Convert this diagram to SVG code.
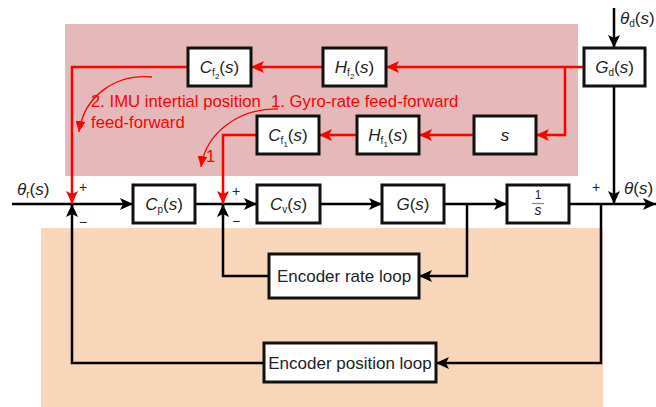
<svg xmlns="http://www.w3.org/2000/svg" width="656" height="407" viewBox="0 0 656 407">
<style>
text{font-family:"Liberation Sans",Arial,sans-serif;font-size:17px;fill:#222}
.it{font-style:italic}
.box{fill:#fff;stroke:#111;stroke-width:3}
.k{fill:none;stroke:#000;stroke-width:2.5}
.r{fill:none;stroke:#f00;stroke-width:2.5}
.ra{fill:none;stroke:#f00;stroke-width:1.3}
.rt{fill:#f00;font-size:16.7px}
.sg{font-size:14px}
</style>
<defs>
<marker id="ak" markerUnits="userSpaceOnUse" markerWidth="14" markerHeight="12" refX="13" refY="6" orient="auto"><path d="M0,0 L13,6 L0,12 L3,6 Z" fill="#000"/></marker>
<marker id="ar" markerUnits="userSpaceOnUse" markerWidth="14" markerHeight="12" refX="13" refY="6" orient="auto"><path d="M0,0 L13,6 L0,12 L3,6 Z" fill="#f00"/></marker>
<marker id="at" markerUnits="userSpaceOnUse" markerWidth="12" markerHeight="10" refX="11" refY="5" orient="auto"><path d="M0,0 L11,5 L0,10 Z" fill="#f00"/></marker>
</defs>
<rect x="65" y="24" width="513" height="152" fill="#e5b9b9"/>
<rect x="41" y="228" width="562" height="179" fill="#f8d6ba"/>
<g id="connectors">
<path class="k" d="M12 204 H72"/>
<path class="k" d="M72 204 H133" marker-end="url(#ak)"/>
<path class="k" d="M195 204 H223"/>
<path class="k" d="M223 204 H257" marker-end="url(#ak)"/>
<path class="k" d="M320 204 H382" marker-end="url(#ak)"/>
<path class="k" d="M444 204 H507" marker-end="url(#ak)"/>
<path class="k" d="M569 204 H656" marker-end="url(#ak)"/>
<path class="k" d="M614 8 V48" marker-end="url(#ak)"/>
<path class="k" d="M614 86 V204" marker-end="url(#ak)"/>
<path class="k" d="M467 204 V276 H419" marker-end="url(#ak)"/>
<path class="k" d="M269 276 H223 V204" marker-end="url(#ak)"/>
<path class="k" d="M601 204 V363 H436" marker-end="url(#ak)"/>
<path class="k" d="M264 363 H72 V204" marker-end="url(#ak)"/>
<path class="r" d="M584 67 H386" marker-end="url(#ar)"/>
<path class="r" d="M565 67 V135 H536" marker-end="url(#ar)"/>
<path class="r" d="M474 135 H419" marker-end="url(#ar)"/>
<path class="r" d="M357 135 H319" marker-end="url(#ar)"/>
<path class="r" d="M257 135 H223 V204" marker-end="url(#ar)"/>
<path class="r" d="M323 67 H251" marker-end="url(#ar)"/>
<path class="r" d="M188 67 H72 V204" marker-end="url(#ar)"/>
<path class="ra" d="M152 77 C115 74 84 96 79 132" marker-end="url(#at)"/>
<path class="ra" d="M278 109 C240 108 206 132 201 167" marker-end="url(#at)"/>
</g>
<g id="annotations">
<text class="rt" x="91" y="107">2. IMU intertial position</text>
<text class="rt" x="91" y="128">feed-forward</text>
<text class="rt" x="271" y="107">1. Gyro-rate feed-forward</text>
<text class="rt" x="206" y="162">1</text>
</g>
<g id="signals">
<text x="17" y="195"><tspan class="it">θ</tspan><tspan font-size="10" dy="3">r</tspan><tspan dy="-3">(</tspan><tspan class="it">s</tspan>)</text>
<text x="624" y="194"><tspan class="it">θ</tspan>(<tspan class="it">s</tspan>)</text>
<text x="620" y="24"><tspan class="it">θ</tspan><tspan font-size="10" dy="3">d</tspan><tspan dy="-3">(</tspan><tspan class="it">s</tspan>)</text>
<text class="sg" x="83" y="192" text-anchor="middle">+</text>
<text class="sg" x="83" y="227" text-anchor="middle">−</text>
<text class="sg" x="236" y="196" text-anchor="middle">+</text>
<text class="sg" x="236" y="226" text-anchor="middle">−</text>
<text class="sg" x="596" y="192" text-anchor="middle">+</text>
</g>
<g id="Cf2"><rect class="box" x="188" y="48" width="63" height="38"/><text x="219.5" y="73" text-anchor="middle"><tspan class="it">C</tspan><tspan font-size="10" dy="3">f</tspan><tspan font-size="8" dy="3">2</tspan><tspan dy="-6">(</tspan><tspan class="it">s</tspan>)</text></g>
<g id="Hf2"><rect class="box" x="323" y="48" width="63" height="38"/><text x="354.5" y="73" text-anchor="middle"><tspan class="it">H</tspan><tspan font-size="10" dy="3">f</tspan><tspan font-size="8" dy="3">2</tspan><tspan dy="-6">(</tspan><tspan class="it">s</tspan>)</text></g>
<g id="Gd"><rect class="box" x="584" y="48" width="61" height="38"/><text x="614.5" y="73" text-anchor="middle"><tspan class="it">G</tspan><tspan font-size="10" dy="3">d</tspan><tspan dy="-3">(</tspan><tspan class="it">s</tspan>)</text></g>
<g id="Cf1"><rect class="box" x="257" y="116" width="62" height="38"/><text x="288" y="141" text-anchor="middle"><tspan class="it">C</tspan><tspan font-size="10" dy="3">f</tspan><tspan font-size="8" dy="3">1</tspan><tspan dy="-6">(</tspan><tspan class="it">s</tspan>)</text></g>
<g id="Hf1"><rect class="box" x="357" y="116" width="62" height="38"/><text x="388" y="141" text-anchor="middle"><tspan class="it">H</tspan><tspan font-size="10" dy="3">f</tspan><tspan font-size="8" dy="3">1</tspan><tspan dy="-6">(</tspan><tspan class="it">s</tspan>)</text></g>
<g id="S"><rect class="box" x="474" y="116" width="62" height="38"/><text class="it" x="505" y="141" text-anchor="middle">s</text></g>
<g id="Cp"><rect class="box" x="133" y="185" width="62" height="38"/><text x="164" y="210" text-anchor="middle"><tspan class="it">C</tspan><tspan font-size="10" dy="3">p</tspan><tspan dy="-3">(</tspan><tspan class="it">s</tspan>)</text></g>
<g id="Cv"><rect class="box" x="257" y="185" width="63" height="38"/><text x="288.5" y="210" text-anchor="middle"><tspan class="it">C</tspan><tspan font-size="10" dy="3">v</tspan><tspan dy="-3">(</tspan><tspan class="it">s</tspan>)</text></g>
<g id="G"><rect class="box" x="382" y="185" width="62" height="38"/><text x="413" y="210" text-anchor="middle"><tspan class="it">G</tspan>(<tspan class="it">s</tspan>)</text></g>
<g id="Int"><rect class="box" x="507" y="185" width="62" height="38"/><line x1="532" y1="203.5" x2="544" y2="203.5" stroke="#888" stroke-width="1.2"/><text text-anchor="middle"><tspan x="538" y="199" font-size="12">1</tspan><tspan class="it" x="538" y="215" font-size="14">s</tspan></text></g>
<g id="EncRate"><rect class="box" x="269" y="254" width="150" height="44"/><text x="344" y="282" text-anchor="middle">Encoder rate loop</text></g>
<g id="EncPos"><rect class="box" x="264" y="343" width="172" height="39"/><text x="350" y="369" text-anchor="middle">Encoder position loop</text></g>
</svg>
